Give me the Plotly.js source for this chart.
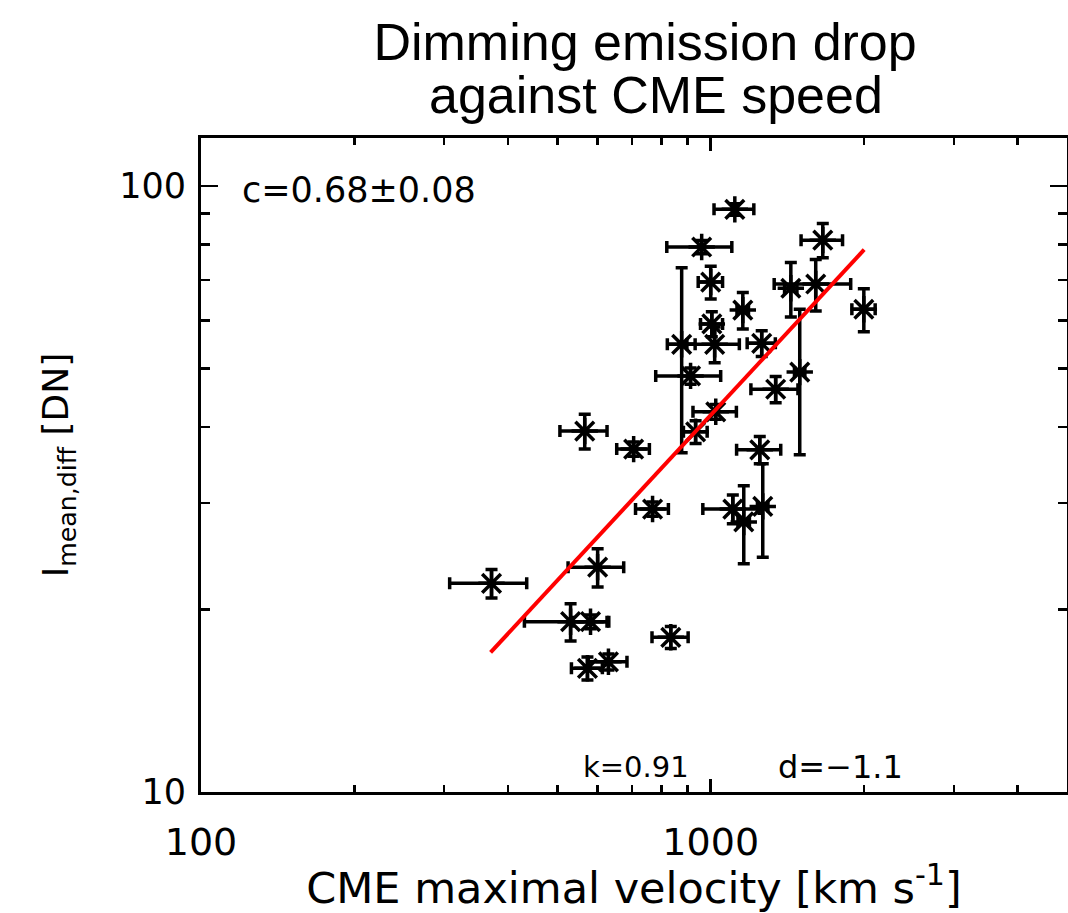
<!DOCTYPE html>
<html>
<head>
<meta charset="utf-8">
<script src="https://cdn.plot.ly/plotly-3.0.1.min.js"></script>
<style>html,body{margin:0;padding:0;background:#fff;}#chart{width:1068px;height:913px;}</style>
</head>
<body>
<div id="chart"></div>
<script>
// CME maximal velocity [km/s] and its uncertainty
const velocity    = [1115, 960, 1659, 1000, 1156, 1005, 877, 1018, 1259, 1436, 1607, 1997, 913, 1023, 934, 566, 706, 1341, 1495, 1248, 769, 1105, 1161, 1265, 600, 371.5, 531, 581, 835, 573, 630];
const velocityErr = [100, 140, 155, 55, 30, 50, 55, 120, 80, 40, 275, 105, 133, 100, 50, 60, 52, 142, 35, 124, 57, 140, 30, 30, 75, 64, 100, 45, 68, 40, 55];
// Mean dimming emission drop [DN] and its uncertainty
const intensity    = [91.5, 79.3, 81.4, 69.4, 62.4, 59.2, 54.8, 54.8, 55.0, 67.8, 68.9, 62.6, 48.6, 42.4, 39.3, 39.4, 36.8, 46.2, 49.3, 36.7, 29.3, 29.3, 27.9, 29.6, 23.5, 22.1, 19.1, 19.1, 18.0, 16.0, 16.4];
const intensityErr = [2, 2, 5.3, 4.3, 4.3, 2.8, 18.5, 3.7, 2.7, 7, 6.7, 5.1, 1.5, 1.2, 1.7, 2.6, 1, 2.3, 13.3, 1.9, 0.8, 1.6, 4.1, 5.2, 1.7, 1.2, 1.35, 0.5, 0.75, 0.7, 0.5];
// Fitted power law (end points)
const fitVelocity  = [370, 2000];
const fitIntensity = [17.0, 78.5];
// Axis ticks
const xMajorTicks = [100, 1000];
const xMajorLabels = ['100', '1000'];
const xMinorTicks = [200, 300, 400, 500, 600, 700, 800, 900, 2000, 3000, 4000];
const yMajorTicks = [10, 100];
const yMajorLabels = ['10', '100'];
const yMinorTicks = [20, 30, 40, 50, 60, 70, 80, 90];

const titleFont = {family: 'Liberation Sans, Arial, sans-serif', size: 52, color: '#000'};

const traces = [
  {
    type: 'scatter', mode: 'markers',
    x: velocity, y: intensity,
    marker: {symbol: 'asterisk-open', size: 22, color: '#000', line: {color: '#000', width: 3.5}},
    error_x: {type: 'data', array: velocityErr, visible: true, color: '#000', thickness: 3.5, width: 6},
    error_y: {type: 'data', array: intensityErr, visible: true, color: '#000', thickness: 3.5, width: 6},
    showlegend: false, hoverinfo: 'x+y'
  },
  {
    type: 'scatter', mode: 'lines',
    x: fitVelocity, y: fitIntensity,
    line: {color: '#ff0000', width: 4},
    showlegend: false
  }
];

const layout = {
  width: 1068, height: 913,
  paper_bgcolor: '#fff', plot_bgcolor: '#fff',
  margin: {l: 201, r: 1, t: 138, b: 121, pad: 0},
  title: {
    text: 'Dimming emission drop',
    font: titleFont,
    x: 0.604, xanchor: 'center', xref: 'container',
    y: 1 - 42 / 913, yanchor: 'middle', yref: 'container'
  },
  xaxis: {
    type: 'log', range: [2, Math.log10(5000)],
    tickvals: xMajorTicks, ticktext: xMajorLabels,
    ticks: 'inside', ticklen: 13, tickwidth: 2.5, tickcolor: '#000',
    minor: {tickvals: xMinorTicks, ticks: 'inside', ticklen: 7, tickwidth: 2.5, tickcolor: '#000', showgrid: false},
    showline: true, linecolor: '#000', linewidth: 3, mirror: 'allticks',
    showgrid: false, zeroline: false,
    tickfont: {family: 'DejaVu Sans, sans-serif', size: 38, color: '#000'}, ticklabelstandoff: 14,
    title: {text: 'CME maximal velocity [km s<sup>-1</sup>]', font: {family: 'DejaVu Sans, sans-serif', size: 43, color: '#000'}, standoff: 6}
  },
  yaxis: {
    type: 'log', range: [1, Math.log10(120)],
    tickvals: yMajorTicks, ticktext: yMajorLabels,
    ticks: 'inside', ticklen: 17, tickwidth: 2.5, tickcolor: '#000',
    minor: {tickvals: yMinorTicks, ticks: 'inside', ticklen: 9, tickwidth: 2.5, tickcolor: '#000', showgrid: false},
    showline: true, linecolor: '#000', linewidth: 3, mirror: 'allticks',
    showgrid: false, zeroline: false,
    tickfont: {family: 'DejaVu Sans, sans-serif', size: 35, color: '#000'}, ticklabelstandoff: 5,
    title: {text: 'I<sub>mean,diff</sub> [DN]', font: {family: 'DejaVu Sans, sans-serif', size: 36, color: '#000'}, standoff: 40}
  },
  annotations: [
    {text: 'against CME speed', xref: 'paper', yref: 'paper', x: (656 - 201) / 866, y: (792 - 95) / 654,
     xanchor: 'center', yanchor: 'middle', showarrow: false, font: titleFont},
    {text: 'c=0.68±0.08', xref: 'paper', yref: 'paper', x: 0.045, y: 0.92, xanchor: 'left', yanchor: 'middle', showarrow: false,
     font: {family: 'DejaVu Sans, sans-serif', size: 35, color: '#000'}},
    {text: 'k=0.91', xref: 'paper', yref: 'paper', x: (636 - 201) / 866, y: 0.038, xanchor: 'center', yanchor: 'middle', showarrow: false,
     font: {family: 'DejaVu Sans, sans-serif', size: 29, color: '#000'}},
    {text: 'd=−1.1', xref: 'paper', yref: 'paper', x: (840 - 201) / 866, y: 0.038, xanchor: 'center', yanchor: 'middle', showarrow: false,
     font: {family: 'DejaVu Sans, sans-serif', size: 32, color: '#000'}}
  ]
};

Plotly.newPlot('chart', traces, layout, {displayModeBar: false, staticPlot: true});
</script>
</body>
</html>
